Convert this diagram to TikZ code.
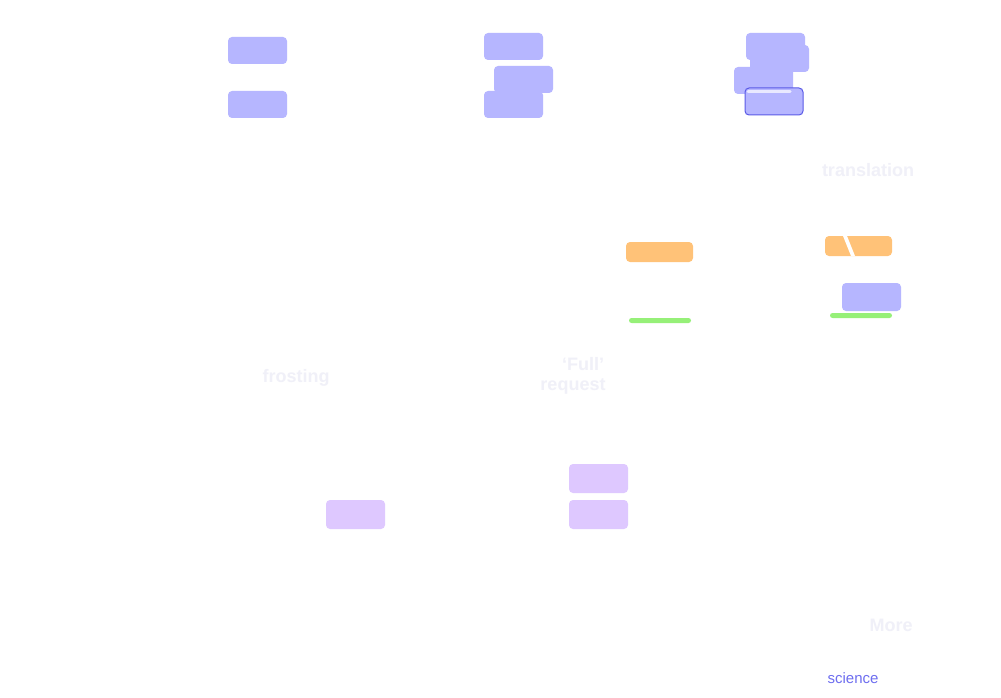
\documentclass[tikz,border=0pt]{standalone}
\usepackage{fontspec}
\setmainfont{Liberation Sans}
\begin{document}
\begin{tikzpicture}[x=1pt,y=-1pt,
  bluebox/.style={fill=boxblue, rounded corners=4pt, draw=none},
  purplebox/.style={fill=boxpurple, rounded corners=4pt, draw=none},
  orangebox/.style={fill=boxorange, rounded corners=4pt, draw=none},
  greenbar/.style={fill=bargreen, rounded corners=2.5pt, draw=none},
  faint/.style={text=faintwhite, font=\bfseries\fontsize{18}{21}\selectfont, inner sep=0pt},
]
\definecolor{boxblue}{RGB}{182,182,255}
\definecolor{boxpurple}{RGB}{222,200,255}
\definecolor{boxorange}{RGB}{255,194,120}
\definecolor{bargreen}{RGB}{150,240,120}
\definecolor{darkblue}{RGB}{90,90,230}
\definecolor{faintwhite}{RGB}{240,240,248}
\definecolor{sciblue}{RGB}{110,110,240}
\useasboundingbox[fill=white] (0,0) rectangle (1001,698);

% group 1
\draw[bluebox] (228,37) rectangle (287,64) coordinate (g1a);
\draw[bluebox] (228,91) rectangle (287,118) coordinate (g1b);

% group 2
\draw[bluebox] (484,33) rectangle (543,60) coordinate (g2a);
\draw[bluebox] (494,66) rectangle (553,93) coordinate (g2b);
\draw[bluebox] (484,91) rectangle (543,118) coordinate (g2c);

% group 3
\draw[bluebox] (746,33) rectangle (805,60) coordinate (g3a);
\draw[bluebox] (750,45) rectangle (809,72) coordinate (g3b);
\draw[bluebox] (734,67) rectangle (793,94) coordinate (g3c);
\draw[bluebox, draw=darkblue, line width=1pt] (745,88) rectangle (803,115) coordinate (g3d);
\draw[white!70!boxblue, line width=3pt, line cap=round] (748,91.5) -- (790,91.5);

% texts
\node[faint] (translation) at (868,170) {translation};
\node[faint] (frosting) at (296,378) {frosting};
\node[faint] (full) at (583,364) {`Full'};
\node[faint] (request) at (573,386) {request};
\node[faint] (more) at (891,625) {More};
\node[text=sciblue, font=\fontsize{15}{18}\selectfont, inner sep=0pt] (science) at (853,678) {science};

% middle orange / green
\draw[orangebox] (626,242) rectangle (693,262) coordinate (o1);
\draw[greenbar] (629,318) rectangle (691,323) coordinate (gr1);

% right orange / blue / green
\draw[orangebox] (825,236) rectangle (892,256) coordinate (o2);
\fill[white] (843,236) -- (847,236) -- (855,256) -- (851,256) -- cycle;
\draw[bluebox] (842,283) rectangle (901,311) coordinate (b2);
\draw[greenbar] (830,313) rectangle (892,318) coordinate (gr2);

% purple boxes
\draw[purplebox] (326,500) rectangle (385,529) coordinate (p1);
\draw[purplebox] (569,464) rectangle (628,493) coordinate (p2);
\draw[purplebox] (569,500) rectangle (628,529) coordinate (p3);
\end{tikzpicture}
\end{document}
